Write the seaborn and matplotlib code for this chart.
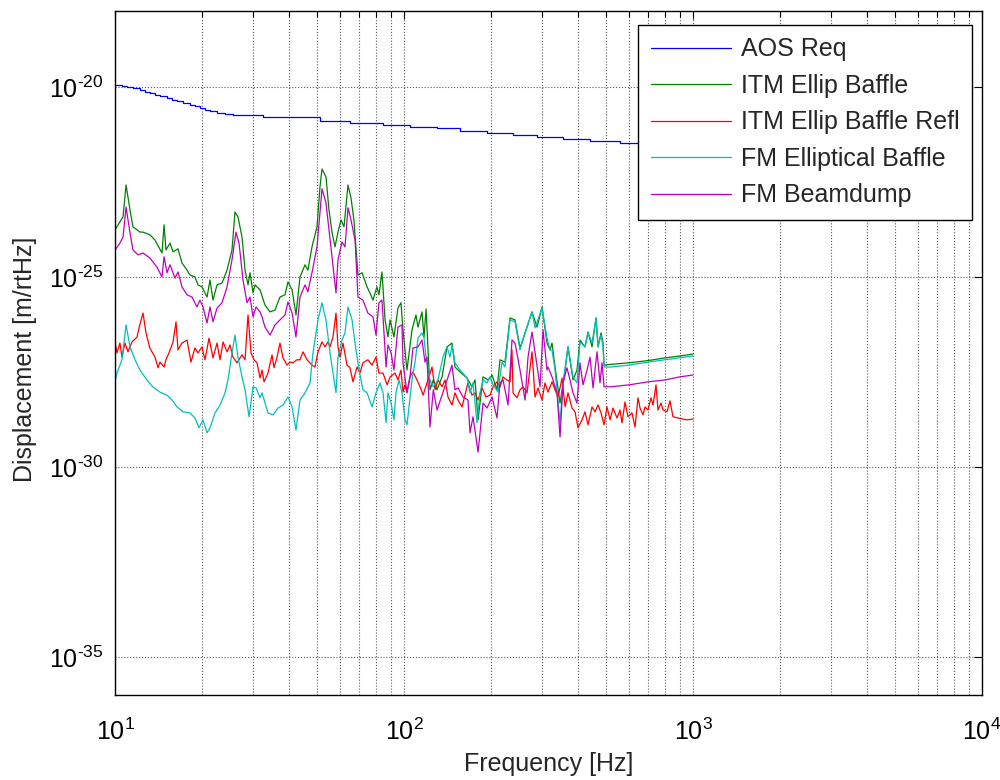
import numpy as np
import pandas as pd
import matplotlib
matplotlib.use("Agg")
import matplotlib.pyplot as plt
import matplotlib.ticker as mticker
import seaborn as sns

# ---------------- data (frequency in Hz, displacement as log10 exponent) ----------------
aos_freq = [10.0, 10.57, 11.0, 11.54, 12.2, 12.7, 13.2, 13.75, 14.31, 15.13, 15.75, 16.39,
            17.19, 18.18, 18.91, 19.68, 20.48, 21.32, 22.54, 24.03, 25.6, 32.5, 41.29, 51.2,
            65.0, 84.6, 104.9, 130.1, 156.3, 193.8, 238.4, 288.6, 355.1, 440.2, 558.9, 710.0, 1000.0]
aos_exp = [-19.95, -19.97, -20.0, -20.03, -20.08, -20.13, -20.16, -20.21, -20.24, -20.29, -20.34, -20.37,
           -20.42, -20.47, -20.5, -20.55, -20.61, -20.63, -20.68, -20.71, -20.74, -20.79, -20.79, -20.89,
           -20.95, -21.0, -21.05, -21.08, -21.16, -21.21, -21.26, -21.32, -21.37, -21.42, -21.47, -21.53, -21.58]

itm_freq = [10.0, 10.4, 10.66, 10.92, 11.27, 11.54, 12.2, 12.5, 13.2, 13.75, 14.54, 14.78, 15.01, 15.5,
            15.88, 16.52, 17.05, 17.75, 18.18, 18.91, 19.37, 20.0, 20.82, 21.32, 21.83, 22.54, 23.46,
            24.42, 25.4, 26.01, 26.64, 27.51, 28.18, 28.86, 29.32, 30.03, 30.51, 31.76, 33.04, 34.39,
            35.8, 37.23, 38.74, 39.68, 41.0, 42.29, 43.66, 45.44, 46.5, 48.04, 50.0, 51.2, 52.03, 53.71,
            55.01, 56.34, 57.7, 59.1, 60.53, 62.0, 64.0, 65.55, 67.1, 69.3, 71.6, 74.5, 76.2, 78.1, 80.6,
            81.9, 83.9, 86.0, 88.0, 89.5, 92.3, 95.3, 97.6, 99.2, 102.4, 106.6, 110.0, 111.8, 115.4,
            117.3, 119.2, 123.0, 126.3, 130.1, 135.4, 140.9, 146.6, 150.1, 156.3, 165.2, 171.9, 176.1,
            180.4, 187.7, 195.4, 201.7, 209.8, 214.9, 223.6, 232.7, 242.2, 252.0, 266.5, 277.3, 288.6,
            300.3, 312.5, 320.0, 325.2, 333.1, 346.7, 360.9, 369.4, 384.4, 396.8, 406.4, 423.0, 433.3,
            447.3, 461.8, 469.3, 480.6, 488.3, 492.2, 520.0, 600.0, 700.0, 800.0, 900.0, 1000.0]
itm_exp = [-23.76, -23.55, -23.42, -22.58, -23.24, -23.68, -23.82, -23.82, -23.89, -24.03, -24.37, -23.63,
           -24.29, -24.11, -24.34, -24.26, -24.63, -24.82, -24.95, -25.0, -25.21, -25.26, -25.53, -25.08,
           -25.61, -25.21, -25.16, -24.82, -24.29, -23.29, -23.42, -23.95, -24.82, -25.21, -24.89, -25.42,
           -25.21, -25.34, -25.74, -25.92, -25.87, -25.53, -25.47, -25.13, -25.34, -26.0, -25.0, -24.68,
           -24.82, -24.21, -23.68, -22.63, -22.16, -22.37, -23.24, -23.82, -24.21, -23.82, -23.5, -23.68,
           -22.58, -22.92, -23.5, -24.95, -24.89, -25.26, -25.42, -25.61, -25.26, -25.47, -24.87, -26.13,
           -26.58, -26.13, -26.58, -25.82, -25.68, -26.39, -27.45, -26.39, -26.0, -26.32, -25.92, -26.58,
           -25.84, -27.97, -27.71, -27.97, -27.63, -26.84, -26.74, -27.37, -27.5, -27.66, -27.89, -27.71,
           -28.76, -27.63, -27.71, -27.58, -27.97, -27.18, -27.24, -26.08, -26.13, -26.87, -26.32, -25.92,
           -26.32, -25.79, -26.74, -26.92, -26.74, -27.37, -28.32, -27.45, -26.84, -27.71, -27.45, -26.66,
           -26.84, -26.45, -26.84, -26.08, -26.84, -26.47, -26.74, -27.32, -27.3, -27.26, -27.2, -27.13,
           -27.08, -27.03]

refl_freq = [10.0, 10.16, 10.4, 10.57, 10.83, 11.09, 11.45, 11.92, 12.11, 12.5, 12.8, 13.2, 13.75, 14.09,
             14.31, 14.78, 15.01, 15.37, 15.88, 16.26, 16.52, 17.05, 17.75, 18.32, 18.91, 19.37, 20.0,
             20.48, 21.15, 21.83, 22.54, 23.09, 23.65, 24.42, 25.0, 25.6, 26.43, 27.51, 28.18, 28.86,
             29.56, 30.27, 31.0, 31.76, 32.27, 32.79, 33.84, 34.94, 35.5, 36.36, 37.23, 38.13, 39.37,
             40.3, 41.29, 42.6, 43.66, 44.72, 46.17, 48.04, 49.2, 50.4, 52.03, 53.3, 54.58, 55.45, 56.79,
             58.17, 59.1, 60.05, 61.5, 63.5, 65.0, 66.6, 68.8, 70.4, 72.1, 75.0, 77.5, 80.0, 81.9, 84.6,
             87.4, 89.5, 93.1, 95.3, 97.6, 99.2, 100.8, 102.4, 104.9, 107.4, 110.9, 113.6, 116.4, 120.1,
             125.0, 128.1, 131.1, 135.4, 138.7, 142.0, 146.6, 150.1, 153.8, 158.8, 162.6, 166.5, 171.9,
             176.1, 180.4, 186.2, 192.2, 198.5, 203.2, 209.8, 214.9, 220.1, 227.2, 232.7, 236.4, 238.4,
             246.0, 252.0, 258.1, 266.5, 277.3, 284.0, 290.9, 300.3, 307.5, 315.0, 325.2, 333.1, 341.2,
             352.3, 360.9, 369.4, 381.3, 390.6, 400.0, 413.0, 423.0, 433.3, 447.3, 458.1, 469.3, 480.6,
             492.2, 504.0, 516.4, 528.7, 545.8, 558.9, 568.0, 581.8, 595.9, 615.2, 630.2, 645.3, 655.8,
             671.4, 682.4, 698.9, 715.6, 727.3, 744.7, 756.6, 775.0, 787.4, 812.8, 832.5, 852.6, 887.3,
             923.4, 952.8, 1000.0]
refl_exp = [-26.71, -27.0, -26.74, -27.11, -26.74, -26.97, -26.71, -26.58, -26.34, -25.95, -26.47, -26.87,
            -27.11, -27.39, -27.24, -27.37, -27.18, -27.0, -26.71, -26.18, -26.92, -26.74, -26.66, -27.24,
            -26.87, -27.0, -26.84, -27.18, -26.61, -27.13, -26.74, -27.18, -26.71, -26.97, -26.79, -27.11,
            -27.26, -27.05, -27.18, -26.0, -27.0, -27.18, -27.26, -27.66, -27.45, -27.76, -27.53, -27.05,
            -27.39, -27.11, -26.74, -27.13, -27.32, -27.24, -27.26, -27.18, -27.18, -26.97, -27.18, -27.32,
            -27.37, -26.97, -26.71, -26.84, -26.71, -26.84, -26.58, -25.95, -26.84, -27.11, -26.74, -27.32,
            -27.39, -27.76, -27.37, -27.53, -27.26, -27.18, -27.32, -27.11, -27.53, -27.53, -27.84, -27.63,
            -27.53, -27.71, -27.45, -28.03, -27.84, -28.03, -27.63, -27.5, -27.71, -27.89, -28.11, -27.79,
            -27.37, -27.97, -27.71, -27.89, -27.71, -28.16, -28.37, -28.05, -28.24, -28.42, -28.11, -27.79,
            -28.11, -28.05, -28.24, -27.92, -28.16, -28.11, -27.89, -27.76, -27.89, -27.63, -27.71, -27.76,
            -26.92, -28.05, -28.18, -27.97, -27.89, -28.05, -26.97, -28.16, -27.92, -28.24, -27.79, -28.03,
            -27.76, -27.97, -28.16, -27.66, -28.42, -28.05, -28.45, -28.55, -28.97, -28.76, -28.55, -28.89,
            -28.42, -28.55, -28.37, -28.58, -28.89, -28.42, -28.76, -28.45, -28.71, -28.5, -28.84, -28.29,
            -28.68, -28.58, -28.95, -28.18, -28.45, -28.63, -28.42, -28.5, -28.18, -28.37, -27.84, -28.5,
            -28.32, -28.5, -28.55, -28.26, -28.68, -28.71, -28.74, -28.76, -28.74]

fm_ell_freq = [10.0, 10.16, 10.57, 10.92, 11.27, 11.73, 12.2, 12.9, 13.5, 14.31, 15.13, 15.75, 16.39,
               17.19, 18.18, 18.91, 19.53, 20.16, 20.82, 21.32, 22.18, 23.09, 24.03, 24.6, 25.4, 26.01,
               26.64, 27.51, 28.18, 29.09, 30.03, 30.76, 31.76, 32.27, 33.84, 35.2, 36.65, 38.13, 39.68,
               41.0, 42.29, 43.66, 45.44, 47.28, 48.43, 50.4, 52.03, 53.71, 55.45, 56.79, 58.17, 59.1,
               61.02, 62.5, 64.0, 66.1, 67.7, 69.9, 72.1, 74.5, 77.5, 80.0, 82.6, 84.6, 86.7, 88.0, 90.2,
               92.3, 93.8, 96.1, 98.4, 100.8, 102.4, 106.6, 109.2, 111.8, 115.4, 117.3, 119.2, 123.0,
               126.3, 131.1, 136.4, 140.9, 144.3, 146.6, 150.1, 156.3, 165.2, 169.2, 173.3, 178.9, 183.2,
               187.7, 193.8, 198.5, 203.2, 211.5, 218.3, 223.6, 232.7, 242.2, 252.0, 262.3, 277.3, 284.0,
               300.3, 312.5, 320.0, 325.2, 333.1, 346.7, 355.1, 369.4, 384.4, 396.8, 406.4, 423.0, 433.3,
               447.3, 461.8, 469.3, 480.6, 488.3, 492.2, 520.0, 600.0, 700.0, 800.0, 900.0, 1000.0]
fm_ell_exp = [-27.76, -27.53, -27.18, -26.26, -26.84, -27.18, -27.45, -27.71, -27.89, -28.03, -28.11,
              -28.24, -28.42, -28.55, -28.58, -28.71, -28.97, -28.76, -29.1, -28.97, -28.58, -28.37, -28.05,
              -27.71, -27.0, -26.53, -27.11, -27.63, -27.97, -28.68, -27.89, -27.92, -28.18, -28.05, -28.58,
              -28.63, -28.45, -28.37, -28.16, -28.42, -29.03, -28.24, -28.05, -27.79, -27.0, -26.13, -25.68,
              -26.13, -27.0, -27.53, -28.05, -27.11, -26.66, -26.47, -25.79, -26.13, -26.74, -27.45, -27.97,
              -28.05, -28.42, -28.05, -27.79, -28.05, -28.84, -28.05, -28.32, -28.76, -28.05, -27.71, -28.05,
              -28.76, -28.89, -27.71, -27.24, -26.61, -26.47, -26.61, -27.11, -27.71, -27.89, -27.71, -27.11,
              -26.84, -27.11, -26.79, -27.26, -27.45, -27.66, -28.05, -27.79, -28.84, -28.05, -27.71, -27.79,
              -27.63, -27.84, -28.03, -27.24, -27.37, -26.13, -26.18, -26.92, -26.47, -25.92, -26.34, -25.82,
              -26.61, -26.92, -26.92, -27.45, -28.84, -27.79, -26.84, -27.63, -27.79, -26.71, -26.84, -26.47,
              -26.74, -26.08, -26.84, -26.53, -26.84, -27.37, -27.37, -27.32, -27.24, -27.18, -27.13, -27.08]

fm_bd_freq = [10.0, 10.4, 10.66, 10.92, 11.27, 11.54, 12.01, 12.5, 13.2, 13.97, 14.54, 14.78, 15.13, 15.5,
              16.13, 16.52, 17.05, 17.75, 18.47, 19.21, 19.68, 20.16, 20.82, 21.32, 21.83, 22.54, 23.46,
              24.42, 25.4, 26.22, 26.86, 27.73, 28.63, 29.32, 30.03, 30.76, 31.76, 32.27, 33.04, 34.39,
              35.8, 37.23, 38.74, 39.68, 41.0, 42.29, 43.66, 45.44, 46.5, 48.04, 50.0, 52.03, 53.71, 55.01,
              56.34, 58.17, 59.1, 61.02, 62.5, 64.0, 65.55, 67.7, 69.3, 72.1, 75.0, 78.1, 80.0, 81.9, 83.9,
              86.7, 88.0, 90.2, 92.3, 95.3, 98.4, 99.2, 102.4, 104.9, 107.4, 111.8, 115.4, 118.2, 120.1,
              123.0, 126.3, 130.1, 135.4, 140.9, 146.6, 150.1, 153.8, 160.1, 166.5, 169.2, 173.3, 180.4,
              187.7, 193.8, 201.7, 209.8, 214.9, 220.1, 229.1, 236.4, 242.2, 252.0, 262.3, 268.6, 277.3,
              284.0, 295.6, 302.7, 312.5, 315.0, 325.2, 338.4, 346.7, 355.1, 366.4, 375.3, 384.4, 396.8,
              406.4, 416.3, 429.8, 440.2, 450.9, 465.5, 476.8, 484.4, 492.2, 520.0, 600.0, 700.0, 800.0,
              900.0, 1000.0]
fm_bd_exp = [-24.29, -24.11, -23.95, -23.16, -23.84, -24.29, -24.42, -24.37, -24.5, -24.74, -25.0, -24.47,
             -24.89, -24.68, -25.03, -24.87, -25.26, -25.47, -25.53, -25.79, -25.61, -25.79, -26.21, -25.79,
             -26.18, -25.82, -25.68, -25.26, -24.55, -23.82, -24.11, -25.08, -25.68, -25.53, -26.05, -25.79,
             -25.92, -26.05, -26.32, -26.53, -26.26, -26.13, -26.0, -25.66, -25.95, -26.58, -25.53, -25.21,
             -25.39, -24.89, -24.21, -22.68, -23.05, -23.76, -24.47, -25.42, -24.55, -24.08, -24.21, -23.18,
             -23.5, -24.03, -25.53, -25.61, -25.95, -26.05, -26.53, -25.68, -25.61, -27.37, -26.79, -27.0,
             -27.45, -26.32, -26.26, -27.26, -28.05, -27.63, -26.87, -26.84, -26.66, -27.24, -27.11, -28.95,
             -27.97, -28.5, -28.11, -27.71, -27.32, -27.97, -27.92, -28.16, -28.24, -29.1, -28.68, -29.61,
             -28.32, -28.45, -28.16, -28.71, -27.79, -27.71, -28.37, -26.66, -26.74, -27.45, -28.24, -27.11,
             -26.45, -26.97, -27.89, -26.39, -27.45, -27.37, -27.63, -28.05, -29.21, -27.79, -27.39, -27.71,
             -28.05, -28.32, -27.26, -27.84, -27.45, -27.11, -27.92, -26.97, -27.79, -27.26, -27.89, -27.89,
             -27.84, -27.76, -27.71, -27.63, -27.58]

labels = ["AOS Req", "ITM Ellip Baffle", "ITM Ellip Baffle Refl", "FM Elliptical Baffle", "FM Beamdump"]
colors = ["#0000FF", "#008000", "#FF0000", "#00BFBF", "#BF00BF"]

x_ticks = [1e1, 1e2, 1e3, 1e4]
x_ticklabels = [r"$10^{1}$", r"$10^{2}$", r"$10^{3}$", r"$10^{4}$"]
y_ticks = [1e-35, 1e-30, 1e-25, 1e-20]
y_ticklabels = [r"$10^{\text{-35}}$", r"$10^{\text{-30}}$", r"$10^{\text{-25}}$", r"$10^{\text{-20}}$"]

# ---------------- style ----------------
sns.set_style("white")
plt.rcParams["font.family"] = ["Liberation Sans", "DejaVu Sans"]
plt.rcParams["mathtext.fontset"] = "custom"
plt.rcParams["mathtext.rm"] = "Liberation Sans"
plt.rcParams["mathtext.it"] = "Liberation Sans:italic"
plt.rcParams["mathtext.bf"] = "Liberation Sans:bold"
plt.rcParams["mathtext.default"] = "regular"

fig = plt.figure(figsize=(10, 7.8), dpi=100)
ax = fig.add_axes([0.115, 0.109, 0.867, 0.877])

series = [
    (aos_freq, aos_exp),
    (itm_freq, itm_exp),
    (refl_freq, refl_exp),
    (fm_ell_freq, fm_ell_exp),
    (fm_bd_freq, fm_bd_exp),
]

for i, ((f, e), lab, col) in enumerate(zip(series, labels, colors)):
    df = pd.DataFrame({"freq": f, "disp": 10.0 ** np.array(e)})
    kw = dict(drawstyle="steps-post") if i == 0 else {}
    sns.lineplot(data=df, x="freq", y="disp", ax=ax, color=col, lw=0.9,
                 label=lab, estimator=None, sort=False, **kw)

ax.set_xscale("log")
ax.set_yscale("log")
ax.set_xlim(10, 1e4)
ax.set_ylim(1e-36, 1e-18)

ax.xaxis.set_major_locator(mticker.FixedLocator(x_ticks))
ax.xaxis.set_major_formatter(mticker.FixedFormatter(x_ticklabels))
ax.xaxis.set_minor_locator(mticker.LogLocator(base=10, subs=np.arange(2, 10), numticks=20))
ax.xaxis.set_minor_formatter(mticker.NullFormatter())
ax.yaxis.set_major_locator(mticker.FixedLocator(y_ticks))
ax.yaxis.set_major_formatter(mticker.FixedFormatter(y_ticklabels))
ax.yaxis.set_minor_locator(mticker.NullLocator())

ax.tick_params(axis="both", which="both", direction="in", top=True, right=True,
               colors="black", labelsize=18)
ax.tick_params(axis="both", which="major", length=6, width=0.8)
ax.tick_params(axis="both", which="minor", length=4, width=0.8)
ax.tick_params(axis="x", which="major", pad=17)
ax.tick_params(axis="y", which="major", pad=8)

ax.grid(True, which="major", axis="both", linestyle=":", color="0.35", lw=0.8)
ax.grid(True, which="minor", axis="x", linestyle=":", color="0.35", lw=0.8)

for sp in ax.spines.values():
    sp.set_color("black")
    sp.set_linewidth(1.0)

ax.set_xlabel("Frequency [Hz]", fontsize=18)
ax.set_ylabel("Displacement [m/rtHz]", fontsize=18)
ax.xaxis.set_label_coords(0.5, -0.083)
ax.yaxis.set_label_coords(-0.09, 0.49)

leg = ax.legend(loc="upper right", bbox_to_anchor=(0.9885, 0.9795), borderaxespad=0.0,
                fontsize=18, frameon=True, fancybox=False, edgecolor="black", framealpha=1,
                handlelength=3.2, handletextpad=0.4, labelspacing=0.5, borderpad=0.5)
leg.get_frame().set_linewidth(1.0)

fig.savefig("out.png", dpi=100)
